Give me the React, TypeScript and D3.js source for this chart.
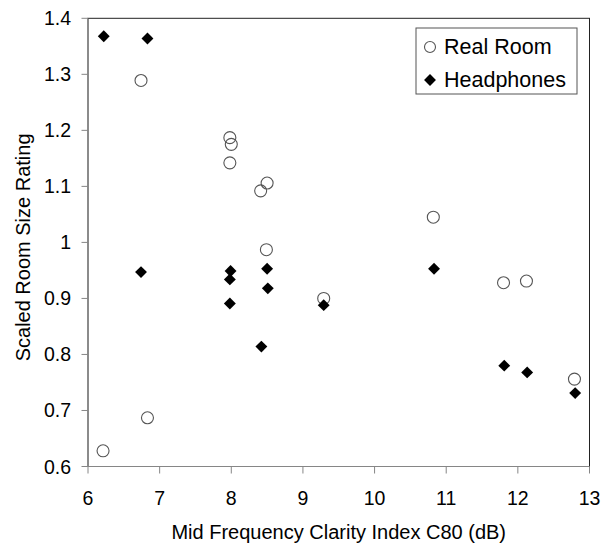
import * as d3 from 'd3'

const xTicks = [6, 7, 8, 9, 10, 11, 12, 13]
const yTicks = [0.6, 0.7, 0.8, 0.9, 1, 1.1, 1.2, 1.3, 1.4]

const realRoomX = [6.21, 6.74, 6.83, 7.98, 8.0, 7.98, 8.41, 8.5, 8.49, 9.29, 10.82, 11.8, 12.12, 12.79]
const realRoomY = [0.628, 1.289, 0.687, 1.187, 1.175, 1.142, 1.092, 1.106, 0.987, 0.9, 1.045, 0.928, 0.931, 0.756]

const headphonesX = [6.22, 6.83, 6.74, 7.99, 7.98, 7.98, 8.42, 8.5, 8.51, 9.29, 10.83, 11.81, 12.13, 12.8]
const headphonesY = [1.368, 1.364, 0.947, 0.949, 0.934, 0.891, 0.814, 0.953, 0.918, 0.888, 0.953, 0.78, 0.768, 0.731]

const W = 608
const H = 543
const m = { top: 18.3, right: 18.5, bottom: 76.5, left: 88 }
const font = '"Liberation Sans", Arial, sans-serif'
const axisGrey = '#868686'

const diamond = d3.symbol().type(d3.symbolDiamond2).size(90)

export default function App() {
  const iw = W - m.left - m.right
  const ih = H - m.top - m.bottom
  const x = d3.scaleLinear().domain([6, 13]).range([0, iw])
  const y = d3.scaleLinear().domain([0.6, 1.4]).range([ih, 0])

  const real = realRoomX.map((v, i) => ({ x: v, y: realRoomY[i] }))
  const phones = headphonesX.map((v, i) => ({ x: v, y: headphonesY[i] }))

  return (
    <>
      <style>{'body{margin:0}'}</style>
      <svg width={W} height={H} style={{ display: 'block', fontFamily: font }}>
        <rect width={W} height={H} fill="#fff" />
        <g transform={`translate(${m.left},${m.top})`}>
          <rect x={0} y={0} width={iw} height={ih} fill="none" stroke="#222" strokeWidth={1} />
          <line x1={0} x2={0} y1={0} y2={ih} stroke={axisGrey} />
          <line x1={0} x2={iw} y1={ih} y2={ih} stroke={axisGrey} />
          {yTicks.map(t => (
            <g key={'y' + t} transform={`translate(0,${y(t)})`}>
              <line x1={-6.5} x2={0} stroke={axisGrey} />
              <text x={-17} dy={7} textAnchor="end" fontSize={19.5} fill="#000">
                {String(t)}
              </text>
            </g>
          ))}
          {xTicks.map(t => (
            <g key={'x' + t} transform={`translate(${x(t)},${ih})`}>
              <line y1={0} y2={7} stroke={axisGrey} />
              <text y={38} textAnchor="middle" fontSize={19.5} fill="#000">
                {t}
              </text>
            </g>
          ))}
          {real.map((d, i) => (
            <circle key={'r' + i} cx={x(d.x)} cy={y(d.y)} r={6} fill="none" stroke="#555" strokeWidth={1.1} />
          ))}
          {phones.map((d, i) => (
            <path key={'h' + i} d={diamond() ?? ''} transform={`translate(${x(d.x)},${y(d.y)})`} fill="#000" />
          ))}
          <text x={iw / 2} y={ih + 72.5} textAnchor="middle" fontSize={20} fill="#000">
            Mid Frequency Clarity Index C80 (dB)
          </text>
          <text transform={`translate(${-58},${ih / 2 + 5}) rotate(-90)`} textAnchor="middle" fontSize={20} fill="#000">
            Scaled Room Size Rating
          </text>
        </g>
        <g transform="translate(416,28)">
          <rect width={161} height={66} fill="#fff" stroke="#555" />
          <circle cx={14} cy={19} r={5.5} fill="none" stroke="#555" strokeWidth={1.1} />
          <text x={28} y={26} fontSize={21.5} fill="#000">Real Room</text>
          <path d={diamond() ?? ''} transform="translate(14,52)" fill="#000" />
          <text x={28} y={58.7} fontSize={21.5} fill="#000">Headphones</text>
        </g>
      </svg>
    </>
  )
}
